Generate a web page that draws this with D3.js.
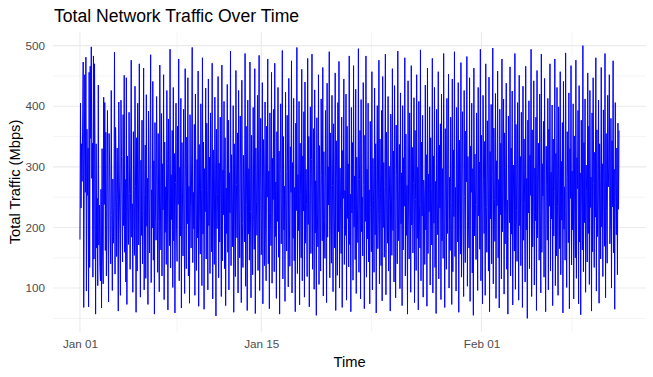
<!DOCTYPE html>
<html>
<head>
<meta charset="utf-8">
<script src="https://cdnjs.cloudflare.com/ajax/libs/d3/7.8.5/d3.min.js"></script>
<style>
  body { margin: 0; background: #fff; }
  svg { font-family: "Liberation Sans", Arial, sans-serif; }
</style>
</head>
<body>
<svg width="653" height="377"></svg>
<script>
// hourly samples, starting 2023-01-01 00:00
var startTime = "2023-01-01T00:00:00";
var traffic = [
 180,405,232,338,276,369,473,68,301,452,258,481,95,362,253,331,69,456,134,466,347,498,281,339,118,
 483,148,470,300,57,338,166,248,104,435,171,237,134,112,263,67,330,161,107,415,238,406,162,357,120,
 252,393,214,77,355,301,190,140,426,220,96,280,174,233,489,123,365,296,152,331,243,62,407,275,190,
 88,410,317,226,143,386,203,451,159,279,110,447,73,318,232,172,390,256,131,301,476,184,239,93,358,
 211,154,433,267,60,348,128,405,292,171,470,219,85,311,187,377,140,228,463,97,254,336,116,419,202,
 281,73,392,245,158,327,485,109,262,199,441,146,310,57,373,234,179,416,290,126,355,210,94,468,247,
 163,388,120,305,229,452,81,341,192,267,139,426,306,64,379,250,170,494,133,287,213,360,101,431,178,
 322,59,274,405,196,144,367,238,478,112,299,186,413,67,340,257,153,395,225,91,462,283,132,349,206,
 447,120,268,75,386,235,166,321,497,142,258,198,370,88,420,244,129,312,183,458,70,337,219,156,404,
 263,104,480,189,341,65,297,226,430,148,372,261,97,445,203,316,124,389,240,160,471,82,328,212,139,
 415,285,54,362,198,254,449,117,306,176,382,232,86,468,145,295,221,408,132,348,71,265,190,436,159,
 377,97,290,224,491,137,320,248,168,401,60,338,209,119,459,271,183,356,92,426,230,150,384,301,76,
 443,206,134,319,255,176,487,103,367,238,63,410,189,297,146,473,226,84,352,272,122,398,208,164,462,
 58,331,243,187,418,129,308,484,96,261,380,155,218,439,74,345,282,137,407,199,112,367,250,478,140,
 293,66,389,225,170,456,108,314,246,395,127,471,185,275,83,358,210,431,151,326,57,289,404,173,240,
 492,115,350,196,268,78,423,234,161,385,292,102,446,217,136,333,258,475,92,307,182,413,145,266,61,
 372,228,497,124,287,195,408,72,339,253,150,461,112,318,227,391,85,440,174,296,238,119,479,205,350,
 69,264,399,157,312,486,131,244,363,98,427,191,277,55,381,219,168,452,106,335,246,128,412,286,178,
 464,87,325,211,149,393,262,76,438,184,300,237,490,117,356,202,141,418,269,94,371,225,166,455,63,
 343,281,121,406,193,474,100,298,230,157,382,68,327,248,445,139,261,187,420,80,367,215,305,135,483,
 172,255,61,398,224,340,113,467,201,285,147,428,91,316,239,175,495,126,279,360,82,411,193,250,153,
 439,271,66,352,210,483,118,296,181,405,143,262,74,375,233,160,457,97,314,244,126,430,188,338,59,
 282,401,165,221,476,107,346,257,137,393,79,449,200,307,151,268,486,89,357,229,174,416,128,301,243,
 62,387,272,154,462,195,326,110,434,215,84,369,286,140,491,178,249,337,99,422,206,290,71,401,163,
 315,235,480,120,354,187,269,57,442,227,148,389,305,93,467,204,332,158,273,414,76,360,246,129,452,
 182,299,64,408,238,166,493,112,341,219,385,85,278,253,139,435,196,320,70,463,157,288,226,399,105,
 348,264,171,479,92,318,207,431,134,276,58,395,244,188,457,115,336,232,371,81,420,178,297,149,487,
 214,68,363,255,131,413,190,305,453,100,283,162,382,241,73,445,127,328,218,490,152,266,95,398,313,
 176,439,60,344,229,156,472,118,289,391,199,86,426,251,142,359,275,482,103,317,210,166,447,78,334,
 258,405,125,297,55,463,186,321,238,147,389,270,96,431,219,308,164,494,112,352,201,74,418,277,190,
 342,88,470,233,159,376,264,128,448,61,325,214,403,140,287,496,107,364,246,177,421,83,310,236,458,
 150,279,67,395,221,339,115,478,193,260,412,90,356,173,299,438,131,245,57,384,266,208,465,120,331,
 189,425,72,303,250,161,487,98,370,228,144,406,293,80,451,203,317,137,390,262,68,433,179,346,240,
 110,466,196,281,50,377,224,409,132,319,253,494,86,361,168,237,442,105,298,211,382,63,459,183,272,
 339,146,420,228,92,486,159,305,252,375,118,446,200,61,334,269,179,413,97,362,235,470,128,291,214,
 402,71,346,186,259,478,104,322,153,431,235,88,399,282,165,457,122,309,212,373,59,441,197,267,146,
 488,230,101,358,284,175,422,66,330,248,467,138,293,196,404,82,351,221,150,476,116,315,264,393,74,
 434,176,290,56,377,242,163,500,127,340,208,412,93,303,259,143,455,190,367,106,426,233,283,62,389,
 160,447,273,134,324,217,480,95,361,185,249,410,75,338,279,148,464,201,305,119,394,243,169,487,84,
 355,226,141,418,267,300,452,173,209,380,100,343,234,475,158,296,65,406,251,188,331,122,372,230,360
];
var xTickDates = ["2023-01-01", "2023-01-15", "2023-02-01"];
var xTickLabels = ["Jan 01", "Jan 15", "Feb 01"];
var xMinorDates = ["2023-01-08T12:00:00", "2023-01-23T12:00:00", "2023-02-08T00:00:00"];
var yTicks = [100, 200, 300, 400, 500];
var yMinor = [50, 150, 250, 350, 450];

var t0 = new Date(startTime);
var data = traffic.map( (v, i) => ({ t: new Date(t0.getTime() + i * 3600e3), v: v }) );

var svg = d3.select("svg");
// panel box (note: "top" is taken by window.top, so prefix these)
var pLeft = 53, pRight = 646, pTop = 32, pBottom = 332;

// ggplot style 5% padding on both scales
function expand(ext) {
    var d = (ext[1] - ext[0]) * 0.05;
    return [ext[0] - d, ext[1] + d];
}
var tExt = d3.extent(data, d => d.t.getTime());
var scX = d3.scaleTime()
    .domain( expand(tExt).map(ms => new Date(ms)) )
    .range( [pLeft, pRight] );
var scY = d3.scaleLinear()
    .domain( expand(d3.extent(data, d => d.v)) )
    .range( [pBottom, pTop] );

// grid: minor first, then major
var grid = svg.append("g").attr("fill", "none");
grid.selectAll(".ym").data(yMinor).enter().append("line")
    .attr("x1", pLeft).attr("x2", pRight)
    .attr("y1", d => scY(d)).attr("y2", d => scY(d))
    .attr("stroke", "#f1f1f1").attr("stroke-width", 0.8);
grid.selectAll(".xm").data(xMinorDates).enter().append("line")
    .attr("x1", d => scX(new Date(d))).attr("x2", d => scX(new Date(d)))
    .attr("y1", pTop).attr("y2", pBottom)
    .attr("stroke", "#f1f1f1").attr("stroke-width", 0.8);
grid.selectAll(".yM").data(yTicks).enter().append("line")
    .attr("x1", pLeft).attr("x2", pRight)
    .attr("y1", d => scY(d)).attr("y2", d => scY(d))
    .attr("stroke", "#ebebeb").attr("stroke-width", 1.1);
grid.selectAll(".xM").data(xTickDates).enter().append("line")
    .attr("x1", d => scX(new Date(d + "T00:00:00"))).attr("x2", d => scX(new Date(d + "T00:00:00")))
    .attr("y1", pTop).attr("y2", pBottom)
    .attr("stroke", "#ebebeb").attr("stroke-width", 1.1);

// the series
var lineMaker = d3.line()
    .x( d => scX(d.t) )
    .y( d => scY(d.v) );
svg.append("path")
    .attr("fill", "none").attr("stroke", "#0000ff").attr("stroke-width", 1)
    .attr("d", lineMaker(data));

// axes (no ticks or domain lines, like theme_minimal)
svg.append("g").attr("transform", "translate(" + pLeft + ",0)")
    .call( d3.axisLeft(scY).tickValues(yTicks).tickSize(0).tickPadding(8) );
svg.append("g").attr("transform", "translate(0," + pBottom + ")")
    .call( d3.axisBottom(scX)
        .tickValues(xTickDates.map(d => new Date(d + "T00:00:00")))
        .tickFormat( (d, i) => xTickLabels[i] )
        .tickSize(0).tickPadding(8) );
svg.selectAll(".domain").remove();
svg.selectAll(".tick text")
    .attr("fill", "#4d4d4d").style("font-size", "11.7px")
    .style("font-family", "'Liberation Sans', Arial, sans-serif");

// titles
svg.append("text").attr("x", 54).attr("y", 22)
    .attr("font-size", "17.6px").attr("fill", "#000")
    .text("Total Network Traffic Over Time");
svg.append("text").attr("x", (pLeft + pRight) / 2).attr("y", 367)
    .attr("text-anchor", "middle").attr("font-size", "14.7px")
    .text("Time");
svg.append("text")
    .attr("transform", "translate(20," + (pTop + pBottom) / 2 + ") rotate(-90)")
    .attr("text-anchor", "middle").attr("font-size", "14.7px")
    .text("Total Traffic (Mbps)");
</script>
</body>
</html>
